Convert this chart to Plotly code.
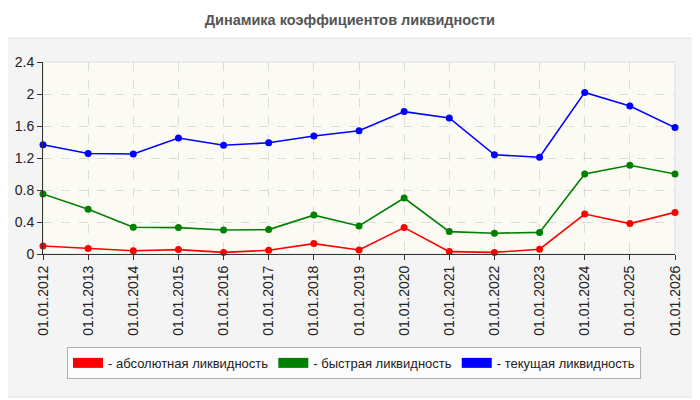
import plotly.graph_objects as go

# Данные
years = [str(y) for y in range(2012, 2027)]
dates = ['01.01.' + y for y in years]

abs_liq = [0.10, 0.07, 0.04, 0.055, 0.02, 0.047, 0.13, 0.05, 0.33, 0.03, 0.02, 0.06, 0.50, 0.38, 0.52]
quick_liq = [0.75, 0.56, 0.335, 0.33, 0.30, 0.305, 0.486, 0.35, 0.70, 0.28, 0.26, 0.27, 1.00, 1.11, 1.00]
cur_liq = [1.366, 1.256, 1.25, 1.45, 1.36, 1.39, 1.475, 1.54, 1.78, 1.70, 1.24, 1.21, 2.02, 1.85, 1.58]

names = ['- абсолютная ликвидность', '- быстрая ликвидность', '- текущая ликвидность']
colors = ['#ff0000', '#008000', '#0000ff']
series = [abs_liq, quick_liq, cur_liq]

fig = go.Figure()

for vals, name, col in zip(series, names, colors):
    fig.add_trace(go.Scatter(
        x=dates, y=vals, mode='lines+markers', name=name,
        line=dict(color=col, width=1.6),
        marker=dict(color=col, size=7),
        cliponaxis=False, showlegend=False))
    # метка для легенды (толстая линия = прямоугольник)
    fig.add_trace(go.Scatter(
        x=[None], y=[None], name=name, mode='lines',
        line=dict(color=col, width=10)))

# серая подложка-панель и рамка области графика
fig.add_shape(type='rect', xref='paper', yref='paper',
              x0=-0.0633, x1=1.0348, y0=-0.745, y1=1.125,
              fillcolor='#f4f4f4', line=dict(color='#e2e2e2', width=1),
              layer='below')
fig.add_shape(type='rect', xref='paper', yref='paper',
              x0=0, x1=1, y0=0, y1=1,
              fillcolor='#fbfbf4', line=dict(color='#dddddd', width=1),
              layer='below')

# страница имеет отступ 8px, поэтому фигура чуть меньше окна
fig.update_layout(
    width=692, height=392,
    margin=dict(l=35, r=25, t=54, b=146, autoexpand=False),
    paper_bgcolor='white',
    plot_bgcolor='rgba(0,0,0,0)',
    font=dict(family='Liberation Sans, Arial, sans-serif', size=13, color='#222'),
    title=dict(text='<b>Динамика коэффициентов ликвидности</b>',
               x=0.494, xref='container', xanchor='center',
               y=0.969, yref='container', yanchor='middle',
               font=dict(size=14.5, color='#555')),
    xaxis=dict(
        type='category', range=[0, 14], automargin=False,
        tickangle=-90, ticks='outside', ticklen=5, tickcolor='#333',
        showline=True, linecolor='#333', linewidth=1,
        showgrid=True, gridcolor='#dcdcdc', griddash='dash', gridwidth=1,
        tickfont=dict(size=14, color='#222')),
    yaxis=dict(
        range=[0, 2.4], tickvals=[0, 0.4, 0.8, 1.2, 1.6, 2, 2.4],
        ticktext=['0', '0.4', '0.8', '1.2', '1.6', '2', '2.4'],
        automargin=False,
        ticks='outside', ticklen=5, tickcolor='#333',
        showline=True, linecolor='#333', linewidth=1,
        showgrid=True, gridcolor='#dcdcdc', griddash='dash', gridwidth=1,
        zeroline=False,
        tickfont=dict(size=14, color='#222')),
    legend=dict(
        orientation='h', x=0.038, xanchor='left', y=-0.484, yanchor='top',
        bgcolor='#fbfbfb', bordercolor='#b0b0b0', borderwidth=1,
        itemwidth=30,
        font=dict(size=13, color='#222'),
        traceorder='normal'),
)

fig.write_html("out.html")
